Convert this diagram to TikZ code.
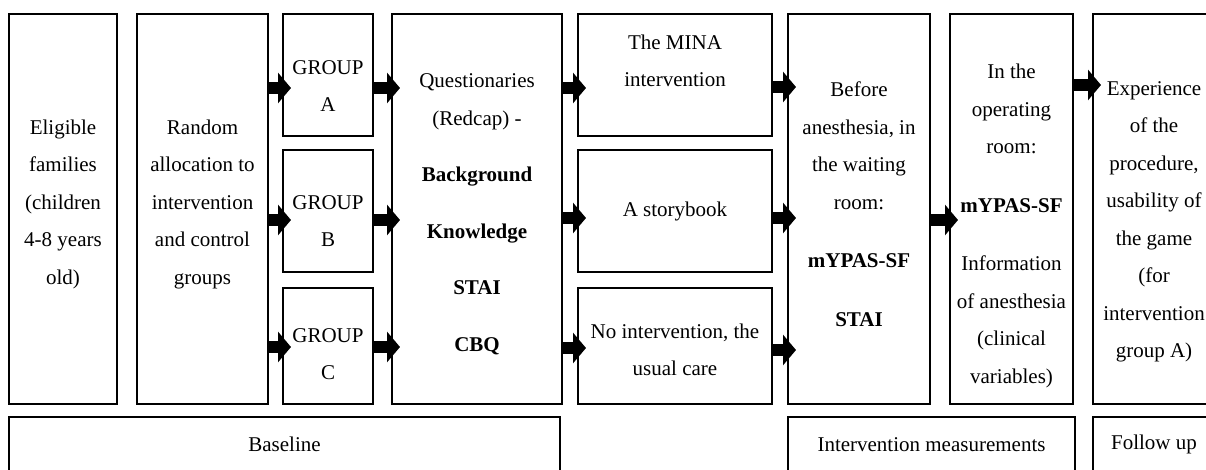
\documentclass[tikz,border=0pt]{standalone}
\usepackage{fontspec}
\setmainfont{Liberation Serif}
\usepackage{tikz}
\usetikzlibrary{arrows.meta,positioning}

\begin{document}
\begin{tikzpicture}[box/.style={draw, line width=1.2pt, outer sep=0pt, inner sep=0pt},
  tall/.style={box, minimum height=390pt},
  txt/.style={align=center, font=\fontsize{21}{37.5}\selectfont},
  blk/.style={line width=12pt, -{Triangle[width=30pt,length=13pt]}, shorten >=-8pt}]

\useasboundingbox (0,0) rectangle (1206pt,-469pt);

% main row
\node[tall, anchor=north west, minimum width=108pt] (elig) at (9pt,-14pt) {};
\node[tall, right=20pt of elig.north east, anchor=north west, minimum width=131pt] (rand) {};
\node[box, right=15pt of rand.north east, anchor=north west, minimum width=90pt, minimum height=122pt] (ga) {};
\node[box, below=14pt of ga.south west, anchor=north west, minimum width=90pt, minimum height=122pt] (gb) {};
\node[box, below=16pt of gb.south west, anchor=north west, minimum width=90pt, minimum height=116pt] (gc) {};
\node[tall, right=19pt of ga.north east, anchor=north west, minimum width=170pt] (quest) {};
\node[box, right=16pt of quest.north east, anchor=north west, minimum width=194pt, minimum height=122pt] (mina) {};
\node[box, below=14pt of mina.south west, anchor=north west, minimum width=194pt, minimum height=122pt] (story) {};
\node[box, below=16pt of story.south west, anchor=north west, minimum width=194pt, minimum height=116pt] (noint) {};
\node[tall, right=16pt of mina.north east, anchor=north west, minimum width=142pt] (before) {};
\node[tall, right=20pt of before.north east, anchor=north west, minimum width=123pt] (oproom) {};
\node[tall, right=20pt of oproom.north east, anchor=north west, minimum width=122pt] (exper) {};

% bottom row
\node[box, below=13pt of elig.south west, anchor=north west, minimum width=551pt, minimum height=55pt] (base) {};
\node[box, below=13pt of before.south west, anchor=north west, minimum width=287pt, minimum height=55pt] (meas) {};
\node[box, below=13pt of exper.south west, anchor=north west, minimum width=122pt, minimum height=55pt] (follow) {};

% texts
\node[txt] (eligT) at ([yshift=5pt]elig.center) {Eligible\\families\\(children\\4-8 years\\old)};
\node[txt] (randT) at ([yshift=5pt]rand.center) {Random\\allocation to\\intervention\\and control\\groups};
\node[txt] (gaT) at ([yshift=-11pt]ga.center) {GROUP\\A};
\node[txt] (gbT) at ([yshift=-10pt]gb.center) {GROUP\\B};
\node[txt] (gcT) at ([yshift=-8pt]gc.center) {GROUP\\C};
\node[txt] (questT) at ([yshift=-5pt]quest.center) {Questionaries\\(Redcap) -\\[19pt]\textbf{Background}\\[19pt]\textbf{Knowledge}\\[19pt]\textbf{STAI}\\[19pt]\textbf{CBQ}};
\node[txt] (minaT) at ([yshift=14pt]mina.center) {The MINA\\intervention};
\node[txt] (storyT) at (story.center) {A storybook};
\node[txt] (nointT) at ([yshift=-4pt]noint.center) {No intervention, the\\usual care};
\node[txt] (beforeT) at ([yshift=5pt]before.center) {Before\\anesthesia, in\\the waiting\\room:\\[21pt]\textbf{mYPAS-SF}\\[21pt]\textbf{STAI}};
\node[txt] (oproomT) at ([yshift=-17pt]oproom.center) {In the\\operating\\room:\\[21pt]\textbf{mYPAS-SF}\\[21pt]Information\\of anesthesia\\(clinical\\variables)};
\node[txt] (experT) at ([yshift=-13pt]exper.center) {Experience\\of the\\procedure,\\usability of\\the game\\(for\\intervention\\group A)};
\node[txt] (baseT) at (base.center) {Baseline};
\node[txt] (measT) at (meas.center) {Intervention measurements};
\node[txt] (followT) at (follow.center) {Follow up};

% arrows
\draw[blk] ([yshift=-13pt]rand.east |- ga.west) -- ([yshift=-13pt]ga.west);
\draw[blk] ([yshift=-9pt]rand.east |- gb.west) -- ([yshift=-9pt]gb.west);
\draw[blk] ([yshift=-1pt]rand.east |- gc.west) -- ([yshift=-1pt]gc.west);
\draw[blk] ([yshift=-13pt]ga.east) -- ([yshift=-13pt]quest.west |- ga.east);
\draw[blk] ([yshift=-9pt]gb.east) -- ([yshift=-9pt]quest.west |- gb.east);
\draw[blk] ([yshift=-1pt]gc.east) -- ([yshift=-1pt]quest.west |- gc.east);
\draw[blk] ([yshift=-13pt]quest.east |- mina.west) -- ([yshift=-13pt]mina.west);
\draw[blk] ([yshift=-7pt]quest.east |- story.west) -- ([yshift=-7pt]story.west);
\draw[blk] ([yshift=-2pt]quest.east |- noint.west) -- ([yshift=-2pt]noint.west);
\draw[blk] ([yshift=-12pt]mina.east) -- ([yshift=-12pt]before.west |- mina.east);
\draw[blk] ([yshift=-7pt]story.east) -- ([yshift=-7pt]before.west |- story.east);
\draw[blk] ([yshift=-4pt]noint.east) -- ([yshift=-4pt]before.west |- noint.east);
\draw[blk] ([yshift=-11pt]before.east) -- ([yshift=-11pt]oproom.west);
\draw[blk] ([yshift=-71pt]oproom.north east) -- ([yshift=-71pt]exper.north west);
\end{tikzpicture}
\end{document}
